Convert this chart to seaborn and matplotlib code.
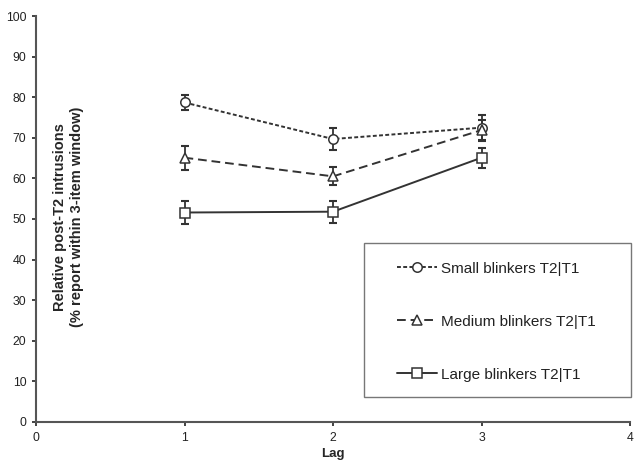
import matplotlib
matplotlib.use("Agg")
import matplotlib.pyplot as plt
import matplotlib.patches as mpatches
import seaborn as sns
import pandas as pd

lags = [1, 2, 3]
small_vals = [78.7, 69.7, 72.5]
small_err = [1.9, 2.7, 3.2]
medium_vals = [65.1, 60.5, 71.9]
medium_err = [3.0, 2.2, 2.5]
large_vals = [51.6, 51.8, 65.1]
large_err = [2.9, 2.7, 2.5]
series_names = ["Small blinkers T2|T1", "Medium blinkers T2|T1", "Large blinkers T2|T1"]
x_ticks = [0, 1, 2, 3, 4]
y_ticks = list(range(0, 101, 10))

sns.set_theme(style="white")
plt.rcParams['font.family'] = ['Liberation Sans', 'DejaVu Sans']

rows = []
for name, vals, errs in zip(series_names, [small_vals, medium_vals, large_vals],
                            [small_err, medium_err, large_err]):
    for l, v, e in zip(lags, vals, errs):
        rows.append({"Lag": l, "value": v, "err": e, "series": name})
df = pd.DataFrame(rows)

fig = plt.figure(figsize=(6.35, 4.63), dpi=100)
ax = fig.add_axes([0.0567, 0.0886, 0.9355, 0.8768])

col = "#333333"
styles = {
    series_names[0]: dict(ls=(0, (2.0, 1.2)), marker="o", ms=6.8),
    series_names[1]: dict(ls=(0, (4.5, 2.5)), marker="^", ms=7.3),
    series_names[2]: dict(ls="-", marker="s", ms=7.0),
}

for name in series_names:
    d = df[df.series == name]
    ax.errorbar(d.Lag, d.value, yerr=d.err, fmt="none", ecolor=col,
                elinewidth=1.3, capsize=3, capthick=1.5, zorder=2)
    st = styles[name]
    sns.lineplot(data=d, x="Lag", y="value", ax=ax, color=col, linewidth=1.4,
                 linestyle=st["ls"], marker=st["marker"], markersize=st["ms"],
                 markerfacecolor="white", markeredgecolor=col, markeredgewidth=1.1,
                 label=name, zorder=3)

ax.set_xlim(0, 4)
ax.set_ylim(0, 100)
ax.set_xticks(x_ticks)
ax.set_yticks(y_ticks)
ax.tick_params(axis="both", labelsize=8.8, colors="#222222", length=3, width=1.2,
               direction="out", pad=4, bottom=True, left=True)
for s in ["top", "right"]:
    ax.spines[s].set_visible(False)
for s in ["left", "bottom"]:
    ax.spines[s].set_color("#555555")
    ax.spines[s].set_linewidth(1.5)
ax.grid(False)

ax.set_xlabel("Lag", fontsize=9.5, fontweight="bold", labelpad=3)
ax.set_ylabel("Relative post-T2 intrusions\n(% report within 3-item window)",
              fontsize=10.5, fontweight="bold")
ax.yaxis.set_label_coords(0.08, 0.505)

# legend frame box
frame = mpatches.Rectangle((0.552, 0.0616), 0.449, 0.379, transform=ax.transAxes,
                           facecolor="white", edgecolor="#777777", linewidth=1.0,
                           clip_on=False, zorder=5)
ax.add_patch(frame)

leg = ax.legend(loc="upper left", bbox_to_anchor=(0.608, 0.395),
                frameon=False, fontsize=11,
                labelspacing=2.55, handlelength=2.6, handletextpad=0.3,
                borderpad=0, borderaxespad=0, numpoints=1)
leg.set_zorder(6)
for t in leg.get_texts():
    t.set_color("#222222")

fig.savefig("out.png", dpi=100)
